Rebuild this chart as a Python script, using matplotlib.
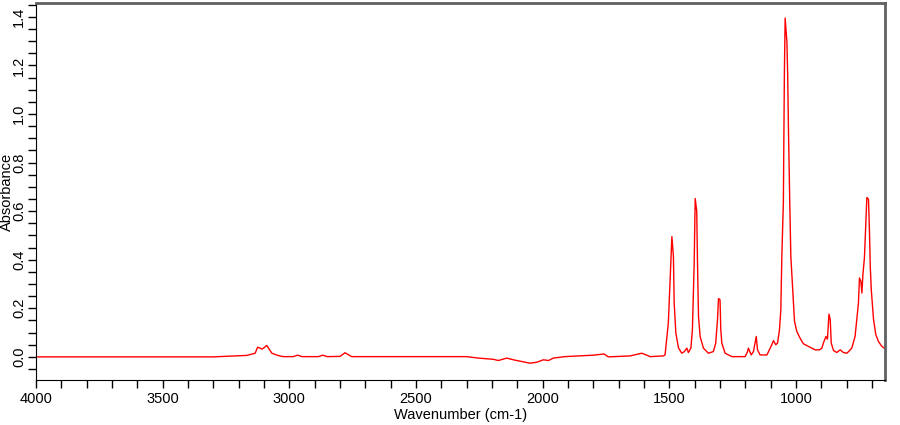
import matplotlib.pyplot as plt
from matplotlib.ticker import MultipleLocator, FormatStrFormatter

plt.rcParams['font.family'] = ['Liberation Sans', 'DejaVu Sans']

# 波数 (cm-1) 与吸光度
wavenumber = [4000, 3300, 3168, 3135, 3125, 3107, 3089, 3069, 3043, 3024,
              2985, 2967, 2950, 2885, 2868, 2850, 2800, 2780, 2754, 2300,
              2254, 2195, 2175, 2142, 2116, 2050, 2023, 1997, 1977, 1958,
              1912, 1800, 1758, 1741, 1655, 1609, 1589, 1576, 1523, 1517,
              1504, 1497, 1490, 1484, 1481, 1474.5, 1464, 1451, 1440.5, 1431,
              1425, 1415, 1409, 1402, 1398, 1392, 1389, 1385, 1378.5, 1365.5,
              1346, 1326, 1317, 1310, 1306, 1300, 1297, 1293, 1280, 1253,
              1201, 1192, 1188, 1177, 1168, 1157, 1152, 1142, 1115, 1095.5,
              1089, 1080, 1073, 1065.5, 1060, 1056, 1050, 1046, 1043, 1036,
              1033, 1030, 1025, 1020.5, 1013, 1006, 997, 984, 971, 951,
              924.5, 907.5, 898, 892, 882, 876, 870, 865, 861, 852,
              839, 826, 813, 799, 780, 767, 753.6, 749.6, 744, 740,
              736, 730, 723, 720.4, 714, 710, 707, 703, 694, 685,
              674.6, 661, 652]
absorbance = [0.0, 0.0, 0.006, 0.015, 0.04, 0.032, 0.047, 0.015, 0.005, 0.001,
              0.001, 0.007, 0.001, 0.001, 0.007, 0.001, 0.002, 0.017, 0.001, 0.001,
              -0.005, -0.01, -0.015, -0.005, -0.012, -0.026, -0.022, -0.012, -0.015, -0.005,
              0.001, 0.007, 0.012, 0.0, 0.004, 0.015, 0.007, 0.001, 0.004, 0.008,
              0.14, 0.318, 0.495, 0.414, 0.223, 0.099, 0.037, 0.015, 0.022, 0.036,
              0.018, 0.036, 0.112, 0.387, 0.652, 0.6, 0.394, 0.167, 0.084, 0.036,
              0.015, 0.022, 0.057, 0.153, 0.24, 0.235, 0.112, 0.057, 0.015, 0.001,
              0.001, 0.02, 0.036, 0.008, 0.022, 0.084, 0.029, 0.008, 0.008, 0.05,
              0.067, 0.05, 0.057, 0.11, 0.194, 0.414, 0.635, 1.165, 1.395, 1.296,
              1.165, 0.945, 0.649, 0.414, 0.277, 0.146, 0.105, 0.077, 0.054, 0.043,
              0.029, 0.029, 0.036, 0.057, 0.084, 0.073, 0.176, 0.153, 0.057, 0.026,
              0.018, 0.029, 0.018, 0.015, 0.036, 0.084, 0.222, 0.325, 0.311, 0.263,
              0.339, 0.408, 0.594, 0.656, 0.649, 0.511, 0.373, 0.277, 0.153, 0.091,
              0.063, 0.043, 0.036]

fig = plt.figure(figsize=(9, 4.25), dpi=100)
ax = fig.add_axes([0.04, 0.106, 0.943, 0.887])

ax.plot(wavenumber, absorbance, color='red', linewidth=1.0)

ax.set_xlim(4000, 650)
ax.set_ylim(-0.095, 1.457)

ax.xaxis.set_major_locator(MultipleLocator(500))
ax.xaxis.set_minor_locator(MultipleLocator(100))
ax.yaxis.set_major_locator(MultipleLocator(0.2))
ax.yaxis.set_minor_locator(MultipleLocator(0.05))
ax.yaxis.set_major_formatter(FormatStrFormatter('%.1f'))

ax.tick_params(which='both', direction='out', length=6, width=1, color='black',
               labelsize=10.5, top=False, right=False)
ax.tick_params(axis='y', pad=1)
ax.tick_params(axis='x', pad=3)
for lab in ax.get_yticklabels():
    lab.set_rotation(90)
    lab.set_va('center')

ax.spines['left'].set_color('black')
ax.spines['bottom'].set_color('black')
ax.spines['top'].set_color('#606060')
ax.spines['right'].set_color('#606060')
ax.spines['top'].set_linewidth(2)
ax.spines['right'].set_linewidth(2)

ax.set_xlabel('Wavenumber (cm-1)', fontsize=10.5, labelpad=1)
ax.set_ylabel('Absorbance', fontsize=10.5)
ax.yaxis.set_label_coords(-0.026, 0.5)

fig.savefig('out.png', dpi=100)
